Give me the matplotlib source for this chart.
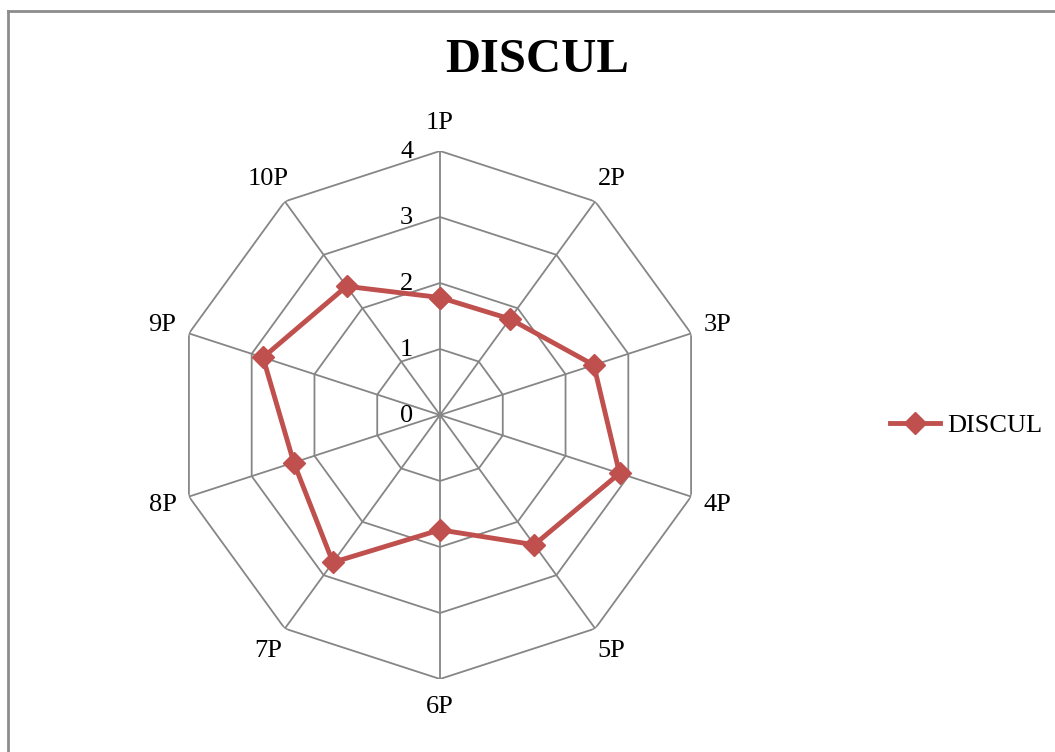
import numpy as np
import matplotlib.pyplot as plt
from matplotlib.lines import Line2D

categories = ["1P", "2P", "3P", "4P", "5P", "6P", "7P", "8P", "9P", "10P"]
values = [1.78, 1.80, 2.45, 2.86, 2.43, 1.74, 2.76, 2.33, 2.82, 2.41]
rings = [1, 2, 3, 4]
series_name = "DISCUL"

plt.rcParams["font.family"] = ["Liberation Serif", "DejaVu Serif"]

W, H = 1055, 752
fig = plt.figure(figsize=(W / 100, H / 100), dpi=100)

# center (440, 415) px, radius 264 px
cx, cy, rad = 440, 415, 264
ax = fig.add_axes([(cx - rad) / W, (H - cy - rad) / H, 2 * rad / W, 2 * rad / H],
                  projection="polar")
ax.set_theta_zero_location("N")
ax.set_theta_direction(-1)
ax.set_ylim(0, 4)
ax.grid(False)
ax.spines["polar"].set_visible(False)
ax.set_xticks([])
ax.set_yticks([])
ax.patch.set_alpha(0)

n = len(categories)
angles = np.arange(n) * 2 * np.pi / n
closed = np.append(angles, angles[0])

gcol = "#868686"
for r in rings:
    ax.plot(closed, [r] * (n + 1), color=gcol, lw=1.3, zorder=1)
for a in angles:
    ax.plot([a, a], [0, rings[-1]], color=gcol, lw=1.3, zorder=1)

for r in [0] + rings:
    ax.annotate(str(r), xy=(0, r), xytext=(-24, -1), textcoords="offset points",
                ha="center", va="center", fontsize=19, zorder=5)

for a, lab in zip(angles, categories):
    ax.text(a, 4.42, lab, ha="center", va="center", fontsize=19)

red = "#C0504D"
ax.plot(closed, values + [values[0]], color=red, lw=3.5, marker="D", markersize=11,
        zorder=4, clip_on=False)

fig.text(537 / W, 1 - 60 / H, "DISCUL", ha="center", va="center",
         fontsize=35, fontweight="bold")

handle = Line2D([], [], color=red, lw=3.5, marker="D", markersize=11)
fig.legend([handle], [series_name], loc="center left",
           bbox_to_anchor=(877 / W, 1 - 425 / H), frameon=False, fontsize=19,
           handlelength=1.9, handletextpad=0.25, borderpad=0)

# chart frame (left and top edges visible)
fig.add_artist(Line2D([8 / W, 8 / W], [0, 1 - 11 / H], color="#8c8c8c", lw=2))
fig.add_artist(Line2D([8 / W, 1], [1 - 11 / H, 1 - 11 / H], color="#8c8c8c", lw=2))

fig.savefig("out.png", dpi=100)
